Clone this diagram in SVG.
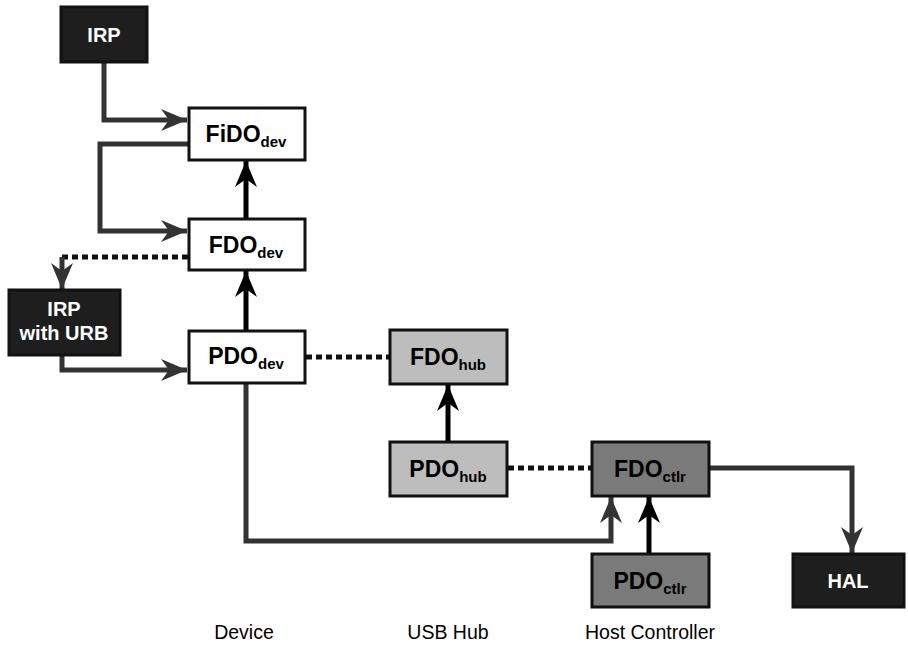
<svg xmlns="http://www.w3.org/2000/svg" width="908" height="648" viewBox="0 0 908 648">
<style>
.box{stroke:#111;stroke-width:3}
.w{fill:#fff}
.lg{fill:#bdbdbd}
.dg{fill:#7a7a7a}
.bk{fill:#1e1e1e}
.t{font-family:"Liberation Sans",Arial,sans-serif;font-weight:bold;font-size:23px;fill:#000;text-anchor:middle}
.tw{font-family:"Liberation Sans",Arial,sans-serif;font-weight:bold;font-size:20px;fill:#fff;text-anchor:middle}
.sub{font-size:15px}
.lab{font-family:"Liberation Sans",Arial,sans-serif;font-size:19.5px;fill:#000;text-anchor:middle}
.g{fill:none;stroke:#333;stroke-width:5}
.b{fill:none;stroke:#000;stroke-width:5}
.d{fill:none;stroke:#111;stroke-width:5;stroke-dasharray:6 4}
</style>
<defs>
<marker id="ag" markerUnits="userSpaceOnUse" markerWidth="28" markerHeight="24" viewBox="-27 -12 28 24" refX="0" refY="0" orient="auto">
<path d="M0,0 L-26,-11 L-18,0 L-26,11 Z" fill="#333"/>
</marker>
<marker id="ab" markerUnits="userSpaceOnUse" markerWidth="28" markerHeight="24" viewBox="-27 -12 28 24" refX="0" refY="0" orient="auto">
<path d="M0,0 L-26,-11 L-18,0 L-26,11 Z" fill="#000"/>
</marker>
</defs>
<g id="connectors">
<path class="g" d="M104,62 V120 H187" marker-end="url(#ag)"/>
<path class="g" d="M188,144 H100 V231 H187" marker-end="url(#ag)"/>
<path class="b" d="M246,218 V161" marker-end="url(#ab)"/>
<path class="b" d="M246,330 V271" marker-end="url(#ab)"/>
<path class="d" d="M188,257 H62"/>
<path class="g" d="M62,257 V289" marker-end="url(#ag)"/>
<path class="g" d="M62,355 V370 H187" marker-end="url(#ag)"/>
<path class="d" d="M306,357 H389"/>
<path class="b" d="M448,441 V385" marker-end="url(#ab)"/>
<path class="d" d="M508,468 H591"/>
<path class="g" d="M246,383 V541 H611 V497" marker-end="url(#ag)"/>
<path class="b" d="M649,554 V497" marker-end="url(#ab)"/>
<path class="g" d="M709,468 H852 V553" marker-end="url(#ag)"/>
</g>
<g id="irp">
<rect class="box bk" x="61" y="7" width="86" height="55"/>
<text class="tw" x="104" y="42">IRP</text>
</g>
<g id="fido-dev">
<rect class="box w" x="189" y="108" width="116" height="52"/>
<text class="t" x="246" y="142">FiDO<tspan class="sub" dy="5">dev</tspan></text>
</g>
<g id="fdo-dev">
<rect class="box w" x="189" y="219" width="116" height="51"/>
<text class="t" x="246" y="253">FDO<tspan class="sub" dy="5">dev</tspan></text>
</g>
<g id="irp-urb">
<rect class="box bk" x="9" y="290" width="111" height="65"/>
<text class="tw" x="64" y="316">IRP</text>
<text class="tw" x="64" y="340">with URB</text>
</g>
<g id="pdo-dev">
<rect class="box w" x="189" y="331" width="116" height="52"/>
<text class="t" x="246" y="364">PDO<tspan class="sub" dy="5">dev</tspan></text>
</g>
<g id="fdo-hub">
<rect class="box lg" x="390" y="330" width="117" height="54"/>
<text class="t" x="448" y="365">FDO<tspan class="sub" dy="5">hub</tspan></text>
</g>
<g id="pdo-hub">
<rect class="box lg" x="390" y="442" width="117" height="54"/>
<text class="t" x="448" y="477">PDO<tspan class="sub" dy="5">hub</tspan></text>
</g>
<g id="fdo-ctlr">
<rect class="box dg" x="592" y="442" width="117" height="54"/>
<text class="t" x="650" y="477">FDO<tspan class="sub" dy="5">ctlr</tspan></text>
</g>
<g id="pdo-ctlr">
<rect class="box dg" x="592" y="554" width="117" height="53"/>
<text class="t" x="650" y="589">PDO<tspan class="sub" dy="5">ctlr</tspan></text>
</g>
<g id="hal">
<rect class="box bk" x="793" y="554" width="111" height="53"/>
<text class="tw" x="848" y="588">HAL</text>
</g>
<g id="labels">
<text class="lab" x="244" y="639">Device</text>
<text class="lab" x="448" y="639">USB Hub</text>
<text class="lab" x="650" y="639">Host Controller</text>
</g>
</svg>
